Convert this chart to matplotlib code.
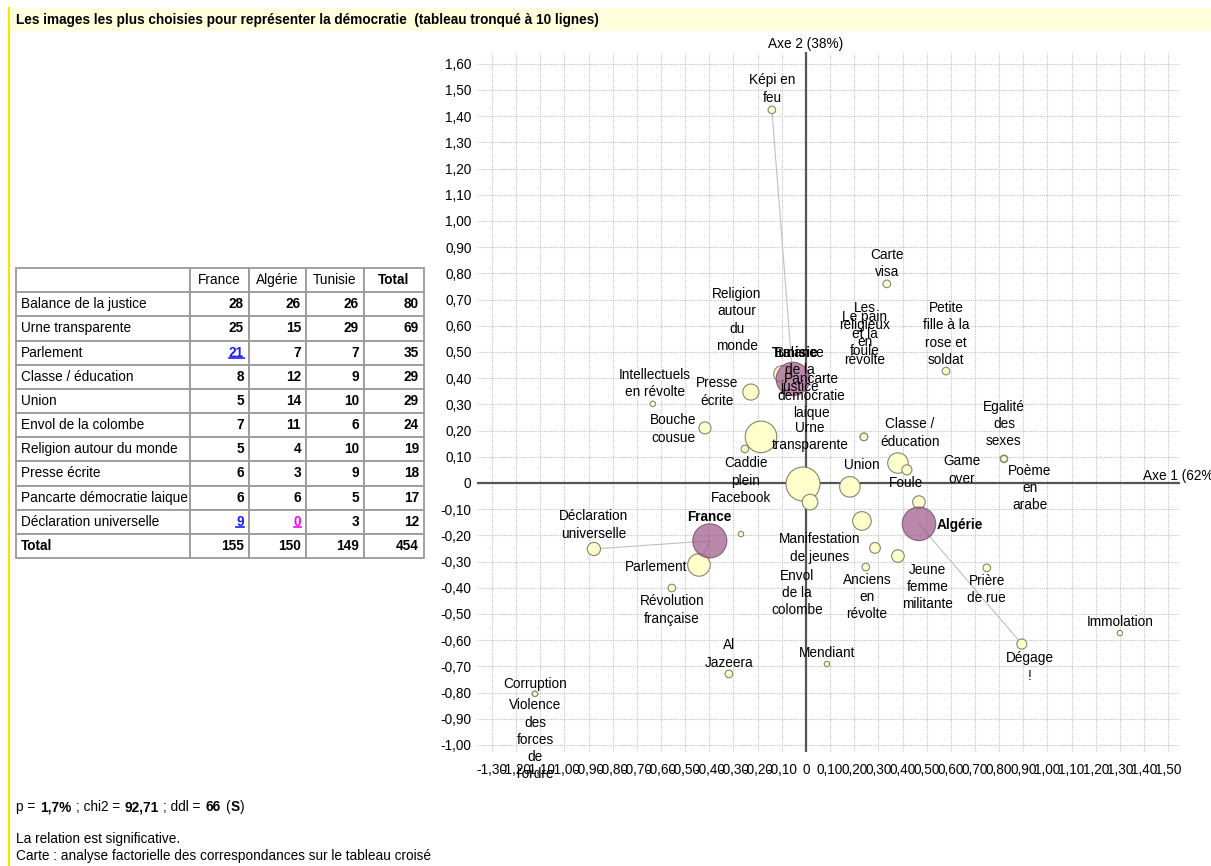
import numpy as np
import matplotlib
matplotlib.use("Agg")
import matplotlib.pyplot as plt
from matplotlib.patches import Rectangle
from matplotlib.lines import Line2D

plt.rcParams['font.family'] = ['Liberation Sans', 'DejaVu Sans']
plt.rcParams['font.size'] = 9.8

# tableau croisé (tronqué à 10 lignes)
lignes = ['Balance de la justice', 'Urne transparente', 'Parlement', 'Classe / éducation',
          'Union', 'Envol de la colombe', 'Religion autour du monde', 'Presse écrite',
          'Pancarte démocratie laique', 'Déclaration universelle']
colonnes = ['France', 'Algérie', 'Tunisie', 'Total']
france = [28, 25, 21, 8, 5, 7, 5, 6, 6, 9]
algerie = [26, 15, 7, 12, 14, 11, 4, 3, 6, 0]
tunisie = [26, 29, 7, 9, 10, 6, 10, 9, 5, 3]
total_lignes = [80, 69, 35, 29, 29, 24, 19, 18, 17, 12]
total_colonnes = [155, 150, 149, 454]

# carte AFC : modalités en ligne
mod_noms = ['Képi en\nfeu', 'Carte\nvisa', 'Petite\nfille à la\nrose et\nsoldat', 'Egalité\ndes\nsexes',
            'Poème\nen\narabe', 'Immolation', 'Dégage\n!', 'Mendiant', 'Al\nJazeera', 'Corruption',
            "Violence\ndes\nforces\nde\nl'ordre", 'Intellectuels\nen révolte', 'Presse\nécrite',
            'Bouche\ncousue', 'Urne\ntransparente', 'Balance\nde la\njustice', 'Caddie\nplein',
            'Facebook', 'Union', 'Classe /\néducation', 'Foule', 'Manifestation\nde jeunes',
            'Anciens\nen\nrévolte', 'Jeune\nfemme\nmilitante', 'Prière\nde rue',
            'Déclaration\nuniverselle', 'Parlement', 'Révolution\nfrançaise', 'Envol\nde la\ncolombe',
            'Pancarte\ndémocratie\nlaique', 'Game\nover', 'Religion\nautour\ndu\nmonde',
            'Les\nreligieux\nen\nrévolte', 'Le pain\net la\nfoule']
mod_x = [-0.141, 0.335, 0.580, 0.820, 0.820, 1.300, 0.894, 0.087, -0.319, -1.122,
         -1.122, -0.634, -0.228, -0.418, -0.186, -0.012, -0.253, -0.269, 0.182, 0.381,
         0.418, 0.286, 0.248, 0.381, 0.749, -0.878, -0.443, -0.555, 0.232, 0.017,
         0.468, -0.099, 0.240, 0.240]
mod_y = [1.424, 0.760, 0.427, 0.092, 0.092, -0.573, -0.615, -0.691, -0.729, -0.805,
         -0.805, 0.302, 0.347, 0.210, 0.176, -0.004, 0.130, -0.195, -0.015, 0.076,
         0.050, -0.248, -0.321, -0.279, -0.324, -0.252, -0.313, -0.401, -0.145, -0.073,
         -0.073, 0.416, 0.176, 0.176]
mod_eff = [4, 4, 4, 4, 3, 2, 7, 2, 4, 2,
           2, 2, 18, 10, 69, 80, 4, 2, 29, 29,
           7, 8, 4, 11, 4, 12, 35, 4, 24, 17,
           11, 19, 4, 4]

# modalités en colonne
pays = ['France', 'Algérie', 'Tunisie']
pays_x = [-0.398, 0.468, -0.054]
pays_y = [-0.221, -0.156, 0.397]
pays_eff = [155, 150, 149]

liens = [(0, 2), (25, 0), (26, 0), (6, 1)]

# décalage des étiquettes (pixels, vers le haut positif)
dec_mod = [(0, 21), (0, 20), (0, 37), (0, 35), (26, -29), (0, 11), (8, -23), (0, 11), (0, 20), (0, 10),
           (0, -46), (2, 20), (-34, 0), (-32, -1), (49, 0), (-3, 114), (1, -23), (0, 36), (12, 22), (12, 30),
           (-1, -13), (-55, 0), (1, -30), (30, -31), (0, -22), (0, 24), (-43, -2), (0, -22), (-65, -72), (1, 106),
           (43, 32), (-45, 54), (1, 103), (1, 103)]
dec_pays = [(0, 24), (41, -1), (2, 26)]

W, H = 1211, 866
fig = plt.figure(figsize=(W / 100, H / 100), dpi=100)


def boite(x0, y0, x1, y1):
    return [x0 / W, 1 - y1 / H, (x1 - x0) / W, (y1 - y0) / H]


bg = fig.add_axes([0, 0, 1, 1])
bg.set_xlim(0, W)
bg.set_ylim(H, 0)
bg.axis('off')

# bandeau titre
bg.add_patch(Rectangle((8, 8), W - 8, 23, facecolor='#ffffdd', edgecolor='none'))
bg.plot([8.5, 8.5], [8, H], color='#f5e600', lw=1.5)
bg.text(16, 20, 'Les images les plus choisies pour représenter la démocratie  (tableau tronqué à 10 lignes)',
        fontweight='bold', va='center', ha='left')

# carte
ax = fig.add_axes(boite(477, 52, 1180, 752))
ax.set_facecolor('none')
ax.set_xlim(-1.362, 1.549)
ax.set_ylim(-1.027, 1.645)
for s in ax.spines.values():
    s.set_visible(False)
xt = np.round(np.arange(-13, 16) / 10, 2)
yt = np.round(np.arange(-10, 17) / 10, 2)
fmt = lambda v: '0' if abs(v) < 1e-9 else ('%.2f' % v).replace('.', ',')
ax.set_xticks(xt)
ax.set_xticklabels([fmt(v) for v in xt])
ax.set_yticks(yt)
ax.set_yticklabels([fmt(v) for v in yt])
ax.tick_params(length=0, labelsize=9.8)
ax.tick_params(axis='x', pad=8)
ax.tick_params(axis='y', pad=4)
ax.grid(True, color='#c4c4c4', lw=0.8, linestyle=(0, (1, 1)))
ax.set_axisbelow(True)
ax.axhline(0, color='#555555', lw=1.6, zorder=1)
ax.axvline(0, color='#555555', lw=1.6, zorder=1)

for i, j in liens:
    ax.plot([mod_x[i], pays_x[j]], [mod_y[i], pays_y[j]], color='#c0c0c0', lw=0.8, zorder=2)

ax.scatter(mod_x, mod_y, s=[7.49 * n for n in mod_eff], facecolor='#ffffcc',
           edgecolor='#858570', linewidth=0.8, zorder=3)
ax.scatter(pays_x, pays_y, s=[3.89 * n for n in pays_eff], facecolor='#9e5a8a', alpha=0.72,
           edgecolor='#6e3e60', linewidth=0.8, zorder=4)

for nom, x, y, d in zip(mod_noms, mod_x, mod_y, dec_mod):
    ax.annotate(nom, (x, y), xytext=d, textcoords='offset pixels', ha='center', va='center',
                linespacing=1.3, zorder=5)
for nom, x, y, d in zip(pays, pays_x, pays_y, dec_pays):
    ax.annotate(nom, (x, y), xytext=d, textcoords='offset pixels', ha='center', va='center',
                fontweight='bold', zorder=5)

bg.text(806, 44, 'Axe 2 (38%)', ha='center', va='center')
ax.annotate('Axe 1 (62%)', xy=(1143, H - 476), xycoords='figure pixels', ha='left', va='center',
            annotation_clip=False, zorder=6)

# tableau
tab_ax = fig.add_axes(boite(16, 268, 424, 558))
tab_ax.axis('off')
cellules = [[''] + colonnes]
for k in range(len(lignes)):
    cellules.append([lignes[k], str(france[k]), str(algerie[k]), str(tunisie[k]), str(total_lignes[k])])
cellules.append(['Total'] + [str(v) for v in total_colonnes])
larg = [174, 59, 57, 58, 60]
tab = tab_ax.table(cellText=cellules, bbox=[0, 0, 1, 1], colWidths=[w / sum(larg) for w in larg],
                   cellLoc='right')
tab.auto_set_font_size(False)
tab.set_fontsize(9.8)
nr = len(cellules)
for (r, c), cell in tab.get_celld().items():
    cell.set_edgecolor('#9a9a9a')
    cell.set_linewidth(1.3)
    cell.PAD = 5 / larg[c]
    t = cell.get_text()
    if r == 0:
        t.set_ha('center')
        if c == 4:
            t.set_fontweight('bold')
    elif c == 0:
        t.set_ha('left')
        if r == nr - 1:
            t.set_fontweight('bold')
    else:
        t.set_fontweight('bold')

speciales = [((3, 1), '#1a1aff'), ((10, 1), '#1a1aff'), ((10, 2), '#ff00ff')]
for rc, col in speciales:
    tab[rc].get_text().set_color(col)

# texte bas, en morceaux gras / normaux
rend = fig.canvas.get_renderer()
espace = 0.278 * 9.8 * 100 / 72


def morceaux(x, y, parts):
    for txt, w in parts:
        x += espace * (len(txt) - len(txt.lstrip()))
        t = bg.text(x, y, txt.strip(), fontweight=w, ha='left', va='baseline')
        x += t.get_window_extent(rend).width + 0.8
        x += espace * (len(txt) - len(txt.rstrip()))


morceaux(16, 811, [('p = ', 'normal'), ('1,7%', 'bold'), (' ; chi2 = ', 'normal'), ('92,71', 'bold'),
                   (' ; ddl = ', 'normal'), ('66', 'bold'), (' (', 'normal'), ('S', 'bold'), (')', 'normal')])
bg.text(16, 843, 'La relation est significative.', ha='left', va='baseline')
bg.text(16, 860, 'Carte : analyse factorielle des correspondances sur le tableau croisé', ha='left', va='baseline')

# soulignement des cases remarquables
fig.canvas.draw()
rend = fig.canvas.get_renderer()
inv = fig.transFigure.inverted()
for rc, col in speciales:
    bb = tab[rc].get_text().get_window_extent(rend)
    (x0, y0), (x1, _) = inv.transform([(bb.x0, bb.y0 + 1.5), (bb.x1, bb.y0 + 1.5)])
    fig.add_artist(Line2D([x0, x1], [y0, y0], color=col, lw=1.2, transform=fig.transFigure))

fig.savefig('out.png', dpi=100)
